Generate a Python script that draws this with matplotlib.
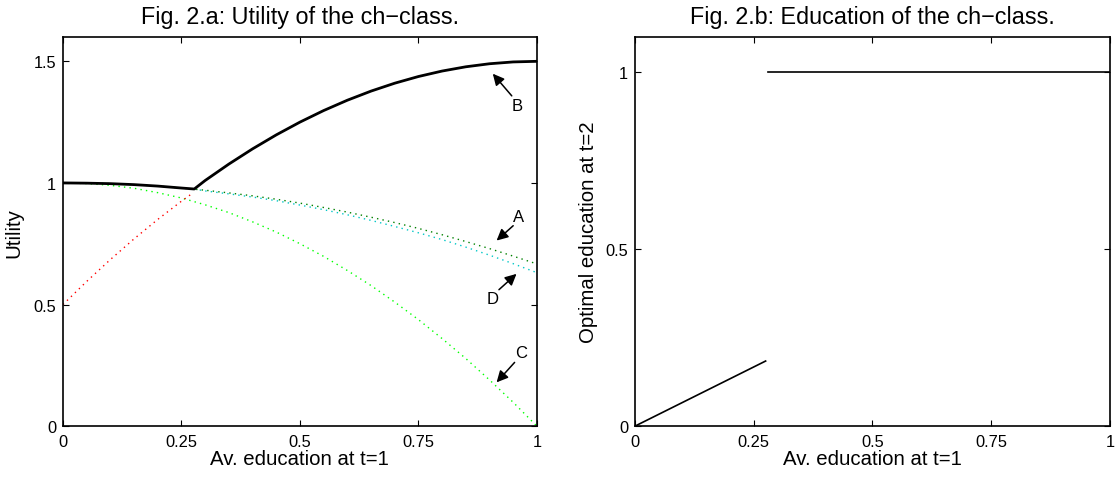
import matplotlib
matplotlib.use('Agg')
import matplotlib.pyplot as plt
from matplotlib.ticker import FuncFormatter

plt.rcParams['font.family'] = ['Liberation Sans', 'DejaVu Sans']

# values
x_full = [0, 0.05, 0.1, 0.15, 0.2, 0.25, 0.3, 0.35, 0.4, 0.45, 0.5,
          0.55, 0.6, 0.65, 0.7, 0.75, 0.8, 0.85, 0.9, 0.95, 1.0]
util_a = [1.0, 0.999, 0.997, 0.993, 0.987, 0.979, 0.970, 0.959, 0.947, 0.933, 0.917,
          0.899, 0.880, 0.859, 0.837, 0.813, 0.787, 0.759, 0.730, 0.699, 0.667]
util_c = [1.0, 0.9975, 0.99, 0.978, 0.96, 0.938, 0.91, 0.878, 0.84, 0.798, 0.75,
          0.698, 0.64, 0.578, 0.51, 0.438, 0.36, 0.278, 0.19, 0.098, 0.0]

x_b = [0, 0.05, 0.1, 0.15, 0.2, 0.25, 0.277, 0.3, 0.35, 0.4, 0.45, 0.5,
       0.55, 0.6, 0.65, 0.7, 0.75, 0.8, 0.85, 0.9, 0.95, 1.0]
util_b = [1.0, 0.999, 0.997, 0.993, 0.987, 0.979, 0.975, 1.01, 1.0775, 1.14, 1.1975, 1.25,
          1.2975, 1.34, 1.3775, 1.41, 1.4375, 1.46, 1.4775, 1.49, 1.4975, 1.5]

x_d = [0.277, 0.3, 0.35, 0.4, 0.45, 0.5, 0.55, 0.6, 0.65, 0.7, 0.75, 0.8, 0.85, 0.9, 0.95, 1.0]
util_d = [0.975, 0.967, 0.955, 0.942, 0.927, 0.909, 0.890, 0.869, 0.846, 0.821,
          0.795, 0.767, 0.736, 0.703, 0.668, 0.631]

x_red = [0, 0.05, 0.1, 0.15, 0.2, 0.25, 0.275]
util_red = [0.5, 0.595, 0.685, 0.77, 0.85, 0.925, 0.96]

# education at t=2 (two pieces)
x_low = [0, 0.275]
edu_low = [0, 0.184]
x_high = [0.28, 1.0]
edu_high = [1.0, 1.0]

xticks = [0, 0.25, 0.5, 0.75, 1]

# label, arrow tip, arrow tail, label position
arrows = [('A', (0.915, 0.763), (0.95, 0.824), (0.962, 0.86)),
          ('B', (0.907, 1.449), (0.947, 1.358), (0.958, 1.317)),
          ('C', (0.915, 0.18), (0.953, 0.262), (0.966, 0.302)),
          ('D', (0.957, 0.626), (0.92, 0.561), (0.907, 0.524))]

fig = plt.figure(figsize=(11.15, 4.81), dpi=100)
ax1 = fig.add_axes([0.0565, 0.112, 0.425, 0.809])
ax2 = fig.add_axes([0.5695, 0.112, 0.426, 0.809])

fmt = FuncFormatter(lambda v, p: ('%g' % v))

dots = (0, (1, 3))
ax1.plot(x_full, util_a, color=(0, 0.5, 0), linestyle=dots, lw=1)
ax1.plot(x_d, util_d, color=(0, 0.78, 0.78), linestyle=dots, lw=1)
ax1.plot(x_full, util_c, color=(0, 1, 0), linestyle=dots, lw=1)
ax1.plot(x_red, util_red, color='red', linestyle=dots, lw=1)
ax1.plot(x_b, util_b, color='black', lw=2)

for lab, tip, tail, pos in arrows:
    ax1.annotate('', xy=tip, xytext=tail,
                 arrowprops=dict(arrowstyle='-|>', color='black', lw=1.1,
                                 mutation_scale=17, shrinkA=0, shrinkB=0))
    ax1.text(pos[0], pos[1], lab, ha='center', va='center', fontsize=12)

ax1.set_xlim(0, 1)
ax1.set_ylim(0, 1.6)
ax1.set_xticks(xticks)
ax1.set_yticks([0, 0.5, 1, 1.5])
ax1.set_xlabel('Av. education at t=1', fontsize=14.7, labelpad=0)
ax1.set_ylabel('Utility', fontsize=14.7, labelpad=7)
ax1.set_title('Fig. 2.a: Utility of the ch\u2212class.', fontsize=16.8, pad=10)

ax2.plot(x_low, edu_low, color='black', lw=1.2)
ax2.plot(x_high, edu_high, color='black', lw=1.2)
ax2.set_xlim(0, 1)
ax2.set_ylim(0, 1.1)
ax2.set_xticks(xticks)
ax2.set_yticks([0, 0.5, 1])
ax2.set_xlabel('Av. education at t=1', fontsize=14.7, labelpad=0)
ax2.set_ylabel('Optimal education at t=2', fontsize=14.7, labelpad=5)
ax2.set_title('Fig. 2.b: Education of the ch\u2212class.', fontsize=16.8, pad=10)

for ax in (ax1, ax2):
    ax.xaxis.set_major_formatter(fmt)
    ax.yaxis.set_major_formatter(fmt)
    ax.tick_params(direction='in', top=True, right=True, length=4, labelsize=11.8)
    ax.tick_params(axis='x', pad=6)
    ax.tick_params(axis='y', pad=5)
    for s in ax.spines.values():
        s.set_linewidth(1.2)

fig.savefig('out.png', dpi=100)
